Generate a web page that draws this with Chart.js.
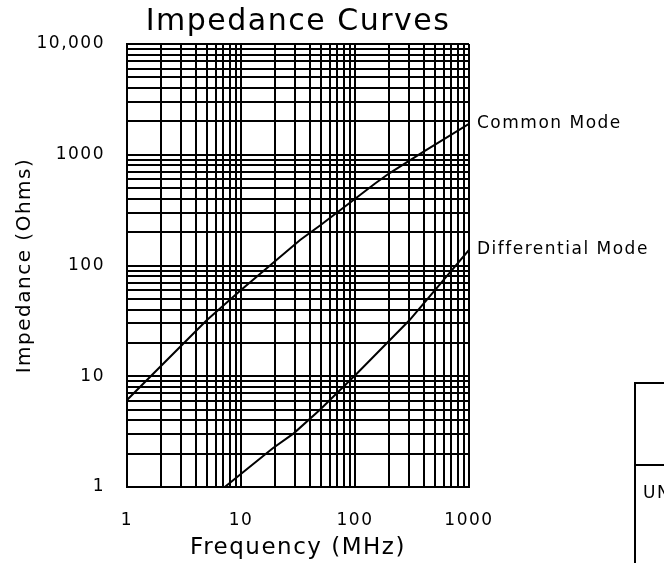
<!DOCTYPE html>
<html>
<head>
<meta charset="utf-8">
<script src="https://cdn.jsdelivr.net/npm/chart.js@4.4.1/dist/chart.umd.min.js"></script>
<style>
html,body{margin:0;padding:0;background:#fff;}
#wrap{position:relative;width:664px;height:563px;overflow:hidden;background:#fff;}
#chart{position:absolute;left:0;top:0;}
#box{position:absolute;left:634px;top:382px;width:40px;height:200px;border-left:2px solid #000;border-top:2px solid #000;}
#boxline{position:absolute;left:0;top:80px;width:40px;border-top:2px solid #000;}
#un{position:absolute;left:7px;top:99px;font:17px "DejaVu Sans";letter-spacing:1.5px;line-height:18px;color:#000;white-space:nowrap;}
</style>
</head>
<body>
<div id="wrap">
<canvas id="chart" width="664" height="563"></canvas>
<div id="box"><div id="boxline"></div><div id="un">UN</div></div>
</div>
<script>
// ---- data ----
const seriesNames = ['Common Mode', 'Differential Mode'];
const cmFreq = [1, 5, 10, 33, 50, 85, 150, 200, 400, 1000];
const cmImp  = [6.1, 32, 60, 170, 232, 352, 550, 680, 1066, 1900];
const dmFreq = [7.2, 19, 29, 49, 104, 300, 1000];
const dmImp  = [1, 2.24, 3.05, 4.96, 10.6, 32, 138];
const xTickValues = [1, 10, 100, 1000];
const xTickLabels = ['1', '10', '100', '1000'];
const yTickValues = [1, 10, 100, 1000, 10000];
const yTickLabels = ['1', '10', '100', '1000', '10,000'];
const chartTitle = 'Impedance Curves';
const xTitle = 'Frequency (MHz)';
const yTitle = 'Impedance (Ohms)';

const FONT = '"DejaVu Sans"';
const SPACING = '1.5px';

function logGrid(min, max) {
  const out = [];
  for (let d = min; d < max; d *= 10) {
    for (let m = 1; m < 10; m++) out.push(d * m);
  }
  out.push(max);
  return out;
}

const spacing = {
  id: 'spacing',
  beforeDraw(chart) { chart.ctx.letterSpacing = SPACING; }
};

const endLabels = {
  id: 'endLabels',
  afterDatasetsDraw(chart) {
    const {ctx, scales: {x, y}} = chart;
    ctx.save();
    ctx.fillStyle = '#000';
    ctx.font = '17px ' + FONT;
    ctx.letterSpacing = SPACING;
    ctx.textAlign = 'left';
    ctx.textBaseline = 'middle';
    chart.data.datasets.forEach(ds => {
      const p = ds.data[ds.data.length - 1];
      ctx.fillText(ds.label, x.getPixelForValue(p.x) + 8, y.getPixelForValue(p.y));
    });
    ctx.restore();
  }
};

function ds(name, fs, vs) {
  return {
    label: name,
    data: fs.map((f, i) => ({x: f, y: vs[i]})),
    borderColor: '#000',
    borderWidth: 2,
    pointRadius: 0,
    tension: 0,
    fill: false
  };
}

new Chart(document.getElementById('chart'), {
  type: 'line',
  data: {
    datasets: [ds(seriesNames[0], cmFreq, cmImp), ds(seriesNames[1], dmFreq, dmImp)]
  },
  options: {
    responsive: false,
    animation: false,
    devicePixelRatio: 1,
    layout: {padding: {left: 0, right: 195, top: 0, bottom: 0}},
    plugins: {
      legend: {display: false},
      tooltip: {enabled: false},
      title: {
        display: true, text: chartTitle, fullSize: false, color: '#000',
        font: {family: FONT, size: 30, weight: 'normal'},
        padding: {top: 4, bottom: 4}
      }
    },
    scales: {
      x: {
        type: 'logarithmic', min: 1, max: 1000,
        afterBuildTicks: s => { s.ticks = logGrid(1, 1000).map(v => ({value: v})); },
        afterFit: s => { s.height = 76; },
        grid: {color: '#000', lineWidth: 2, drawTicks: false},
        border: {display: true, color: '#000', width: 2},
        ticks: {
          autoSkip: false, maxRotation: 0, minRotation: 0, padding: 23, color: '#000',
          font: {family: FONT, size: 17},
          callback: v => { const i = xTickValues.indexOf(v); return i >= 0 ? xTickLabels[i] : ''; }
        },
        title: {display: true, text: xTitle, color: '#000', font: {family: FONT, size: 23}, padding: {top: 0, bottom: 1}}
      },
      y: {
        type: 'logarithmic', min: 1, max: 10000,
        afterBuildTicks: s => { s.ticks = logGrid(1, 10000).map(v => ({value: v})); },
        afterFit: s => { s.width = 127; },
        grid: {color: '#000', lineWidth: 2, drawTicks: false},
        border: {display: true, color: '#000', width: 2},
        ticks: {
          autoSkip: false, padding: 22, color: '#000',
          font: {family: FONT, size: 17},
          callback: v => { const i = yTickValues.indexOf(v); return i >= 0 ? yTickLabels[i] : ''; }
        },
        title: {display: true, text: yTitle, color: '#000', font: {family: FONT, size: 20}, padding: {top: 13, bottom: 0}}
      }
    }
  },
  plugins: [spacing, endLabels]
});
</script>
</body>
</html>
